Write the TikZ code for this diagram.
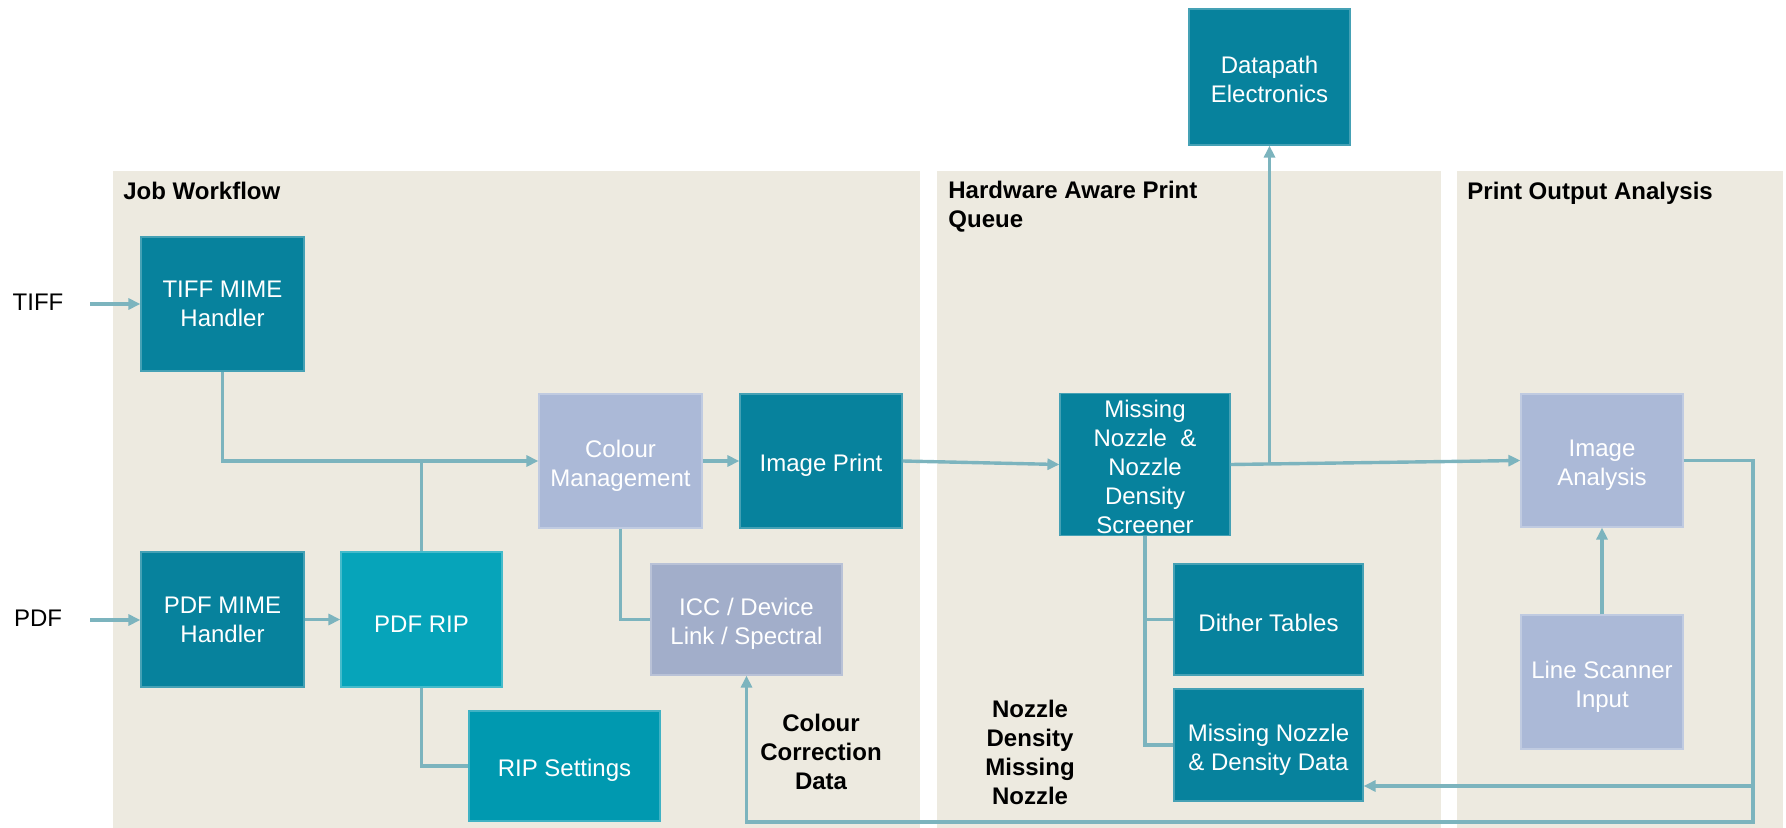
\documentclass[tikz,border=0pt]{standalone}
\usepackage{fontspec}
\setmainfont{Liberation Sans}
\usetikzlibrary{arrows.meta}
\definecolor{tealA}{RGB}{7,130,157}
\definecolor{tealB}{RGB}{6,164,186}
\definecolor{tealC}{RGB}{0,153,176}
\definecolor{lavA}{RGB}{171,185,215}
\definecolor{lavB}{RGB}{162,174,202}
\definecolor{panelC}{RGB}{237,234,224}
\definecolor{lineC}{RGB}{124,180,190}
\newcommand\lowstrut{\rule{0pt}{13pt}}
\begin{document}
\begin{tikzpicture}[x=0.5pt,y=-0.5pt,
  box/.style={rectangle, draw=#1!75!white, line width=0.6pt, fill=#1, text=white,
    align=center, font=\fontsize{12}{14.5}\selectfont, inner sep=1pt,
    execute at begin node={\rule{0pt}{12.5pt}}},
  sz/.style 2 args={minimum width=#1*0.5pt, minimum height=#2*0.5pt},
  panel/.style={fill=panelC, draw=none},
  title/.style={anchor=base west, inner sep=0pt, align=left, font=\bfseries\fontsize{12}{14.5}\selectfont},
  note/.style={align=center, inner sep=0pt, font=\bfseries\fontsize{12}{14.5}\selectfont},
  label/.style={inner sep=0pt, font=\fontsize{12}{14.5}\selectfont},
  wire/.style={draw=lineC, line width=1.7pt, line join=miter},
  arrowline/.style={wire, -{Triangle[length=6pt,width=5.5pt]}}
]
\useasboundingbox (0,0) rectangle (1786,828);
% panels
\fill[panel] (113,171) rectangle (920,828);
\fill[panel] (937,171) rectangle (1441,828);
\fill[panel] (1457,171) rectangle (1783,828);
\node[title] (t1) at (123,200) {Job Workflow};
\node[title, anchor=north west] (t2) at (948,181) {Hardware Aware Print\\Queue};
\node[title] (t3) at (1467,200) {Print Output Analysis};
% labels
\node[label] (tifflab) at (38,302) {TIFF};
\node[label] (pdflab) at (38,618) {PDF};
\coordinate (tiffstart) at (90,304);
\coordinate (pdfstart) at (90,620);
% boxes
\node[box=tealA, sz={163}{134}] (tiff) at (222.5,304) {TIFF MIME\\Handler};
\node[box=tealA, sz={163}{135}] (pdfm) at (222.5,619.5) {PDF MIME\\Handler};
\node[box=tealB, sz={161}{135}] (pdfrip) at (421.5,619.5) {PDF RIP};
\node[box=lavA, sz={163}{134}] (cm) at (620.5,461) {\lowstrut Colour\\Management};
\node[box=tealA, sz={162}{134}] (ip) at (821,461) {Image Print};
\node[box=lavB, sz={191}{111}] (icc) at (746.5,619.5) {\lowstrut ICC / Device\\Link / Spectral};
\node[box=tealC, sz={191}{110}] (rip) at (564.5,766) {RIP Settings};
\node[box=tealA, sz={161}{136}] (dp) at (1269.5,77) {\rule{0pt}{11pt}Datapath\\Electronics};
\node[box=tealA, sz={170}{141}] (mn) at (1145,464.5) {\rule{0pt}{11pt}Missing\\Nozzle~~\&\\Nozzle\\Density\\Screener};
\node[box=tealA, sz={189}{111}] (dith) at (1268.5,619.5) {Dither Tables};
\node[box=tealA, sz={189}{112}] (mnd) at (1268.5,745) {\lowstrut Missing Nozzle\\\& Density Data};
\node[box=lavA, sz={162}{133}] (ia) at (1602,460.5) {\lowstrut Image\\Analysis};
\node[box=lavA, sz={162}{134}] (ls) at (1602,682) {\lowstrut Line Scanner\\Input};
% notes
\node[note] (ccd) at (821,752) {Colour\\Correction\\Data};
\node[note] (ndmn) at (1030,752) {Nozzle\\Density\\Missing\\Nozzle};
% connectors
\draw[arrowline] (tiffstart) -- (tiffstart -| tiff.west);
\draw[arrowline] (pdfstart) -- (pdfstart -| pdfm.west);
\draw[arrowline] (pdfm.east) -- (pdfrip.west);
\draw[arrowline] (tiff.south) |- (cm.west);
\draw[wire] (pdfrip.north) -- (pdfrip.north |- cm.west);
\draw[arrowline] (cm.east) -- (ip.west);
\draw[wire] (cm.south) |- (icc.west);
\draw[wire] (pdfrip.south) |- (rip.west);
\draw[arrowline] (ip.east) -- (mn.west);
\draw[arrowline] (mn.east) -- (ia.west);
\coordinate (jdp) at (1269.5,463.5);
\draw[arrowline] (jdp) -- (dp.south);
\draw[wire] (mn.south) |- (mnd.west);
\draw[wire] (mn.south |- dith.west) -- (dith.west);
\coordinate (fb) at (1753,822);
\coordinate (fb2) at (1753,786);
\draw[arrowline] (ia.east) -| (fb) -| (icc.south);
\draw[arrowline] (fb2) -- (fb2 -| mnd.east);
\draw[arrowline] (ls.north) -- (ia.south);
\end{tikzpicture}
\end{document}
